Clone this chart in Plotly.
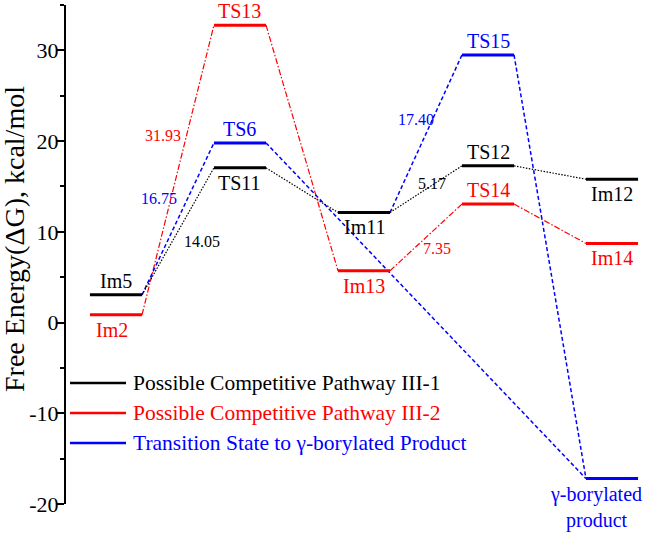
import plotly.graph_objects as go

# ---- data ----
slots = [1, 2, 3, 4, 5]
black_names = ["Im5", "TS11", "Im11", "TS12", "Im12"]
black_G = [3.05, 17.05, 12.13, 17.27, 15.8]
red_names = ["Im2", "TS13", "Im13", "TS14", "Im14"]
red_G = [0.85, 32.78, 5.71, 13.06, 8.72]
blue_names = ["TS6", "TS15", "γ-borylated<br>product"]
blue_slots = [2, 4, 5]
blue_G = [19.8, 29.5, -17.2]
barriers = ["31.93", "16.75", "14.05", "17.40", "5.17", "7.35"]
legend_names = ["Possible Competitive Pathway III-1",
                "Possible Competitive Pathway III-2",
                "Transition State to γ-borylated Product"]
tick_vals = [-20, -10, 0, 10, 20, 30]
tick_text = ["-20", "-10", "0", "10", "20", "30"]

BLACK, RED, BLUE = "#000000", "#ff0000", "#0000ff"
HW = 0.21
FONT = "Liberation Serif"

fig = go.Figure()

def levels(xs, ys, color):
    X, Y = [], []
    for x, y in zip(xs, ys):
        X += [x - HW, x + HW, None]
        Y += [y, y, None]
    fig.add_trace(go.Scatter(x=X, y=Y, mode="lines", line=dict(color=color, width=3),
                             showlegend=False, hoverinfo="skip"))

def connect(pairs, color, dash, width):
    X, Y = [], []
    for (x0, y0), (x1, y1) in pairs:
        X += [x0 + HW, x1 - HW, None]
        Y += [y0, y1, None]
    fig.add_trace(go.Scatter(x=X, y=Y, mode="lines", line=dict(color=color, width=width, dash=dash),
                             showlegend=False, hoverinfo="skip"))

bpts = list(zip(slots, black_G))
rpts = list(zip(slots, red_G))
blpts = list(zip(blue_slots, blue_G))

connect([(rpts[i], rpts[i + 1]) for i in range(4)], RED, "6px,2px,1.5px,2px", 1.2)
connect([(bpts[0], blpts[0]), (blpts[0], blpts[2]), (bpts[2], blpts[1]), (blpts[1], blpts[2])],
        BLUE, "4px,2.5px", 1.5)
connect([(bpts[i], bpts[i + 1]) for i in range(4)], BLACK, "1.5px,1.5px", 1.2)

levels(slots, black_G, BLACK)
levels(slots, red_G, RED)
levels(blue_slots, blue_G, BLUE)

ann = []
def lab(x, y, text, color, pos, size=20):
    ann.append(dict(x=x, y=y, text=text, showarrow=False, xref="x", yref="y",
                    font=dict(family=FONT, size=size, color=color),
                    yanchor="bottom" if pos == "above" else "top",
                    yshift=1 if pos == "above" else -2))

# level labels
lab(slots[0], black_G[0], black_names[0], BLACK, "above")
lab(slots[1], black_G[1], black_names[1], BLACK, "below")
lab(slots[2], black_G[2], black_names[2], BLACK, "below")
lab(slots[3], black_G[3], black_names[3], BLACK, "above")
lab(slots[4], black_G[4], black_names[4], BLACK, "below")
lab(slots[0] - 0.03, red_G[0], red_names[0], RED, "below")
lab(slots[1], red_G[1], red_names[1], RED, "above")
lab(slots[2], red_G[2], red_names[2], RED, "below")
lab(slots[3], red_G[3], red_names[3], RED, "above")
lab(slots[4], red_G[4], red_names[4], RED, "below")
lab(blue_slots[0], blue_G[0], blue_names[0], BLUE, "above")
lab(blue_slots[1], blue_G[1], blue_names[1], BLUE, "above")
lab(blue_slots[2] - 0.13, blue_G[2], blue_names[2], BLUE, "below")

# barrier labels (placed near the connecting lines)
bar_pos = [(1.38, 20.6, RED), (1.35, 13.7, BLUE), (1.69, 8.9, BLACK),
           (3.42, 22.4, BLUE), (3.55, 15.3, BLACK), (3.59, 8.2, RED)]
for (x, y, c), t in zip(bar_pos, barriers):
    ann.append(dict(x=x, y=y, text=t, showarrow=False, xref="x", yref="y",
                    font=dict(family=FONT, size=16, color=c)))

# manual legend
shapes = []
leg_y = [383, 413, 443]
for yy, name, c in zip(leg_y, legend_names, [BLACK, RED, BLUE]):
    shapes.append(dict(type="line", xref="paper", yref="paper",
                       x0=(70 - 66) / 580, x1=(126 - 66) / 580,
                       y0=(504 - yy) / 499, y1=(504 - yy) / 499,
                       line=dict(color=c, width=2.5)))
    ann.append(dict(x=(131 - 66) / 580, y=(504 - yy) / 499, xref="paper", yref="paper",
                    text=name, showarrow=False, xanchor="left", yanchor="middle",
                    font=dict(family=FONT, size=21.5, color=c)))

# y-axis title
ann.append(dict(x=0, y=(504 - 239) / 499, xref="paper", yref="paper",
                text="Free Energy(ΔG), kcal/mol", showarrow=False, textangle=-90,
                xanchor="center", yanchor="middle", xshift=-(66 - 14),
                font=dict(family=FONT, size=28, color="black")))

fig.update_layout(
    width=646, height=536,
    margin=dict(l=66, r=0, t=5, b=32),
    plot_bgcolor="white", paper_bgcolor="white",
    annotations=ann, shapes=shapes,
    showlegend=False,
    xaxis=dict(range=[0.597, 5.274], visible=False),
    yaxis=dict(range=[-20, 35], showgrid=False, zeroline=False,
               showline=True, linecolor="black", linewidth=2,
               ticks="outside", ticklen=7, tickwidth=2, tickcolor="black",
               tickvals=tick_vals, ticktext=tick_text, ticklabelstandoff=-6,
               minor=dict(ticks="outside", ticklen=4, tickwidth=1.5, tickcolor="black",
                          tickvals=[-15, -5, 5, 15, 25, 35]),
               tickfont=dict(family=FONT, size=22, color="black")),
)
fig.update_traces(cliponaxis=False)

fig.write_html("out.html", config={"displayModeBar": False},
               post_script="document.body.style.margin='0';document.body.style.overflow='hidden';")
